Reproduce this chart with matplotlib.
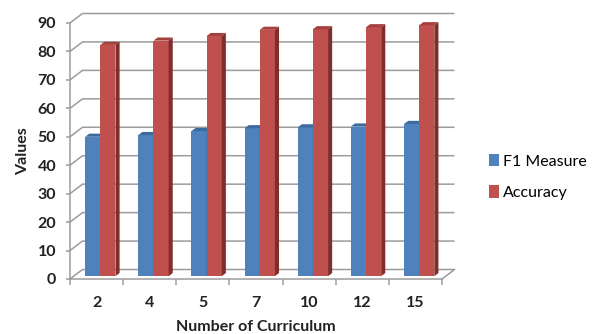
import matplotlib.pyplot as plt

# chart data
categories = ['2', '4', '5', '7', '10', '12', '15']
f1_measure = [49.0, 49.6, 51.0, 52.0, 52.3, 52.6, 53.5]
accuracy = [81.3, 82.8, 84.4, 86.6, 86.8, 87.5, 88.2]
y_ticks = [0, 10, 20, 30, 40, 50, 60, 70, 80, 90]

plt.rcParams['font.family'] = ['Lato', 'DejaVu Sans']

fig = plt.figure(figsize=(5.96, 3.34), dpi=100)
ax = fig.add_axes([70 / 596, 55 / 334, 372 / 596, 256 / 334])
ax.set_xlim(0, len(categories))
ax.set_ylim(0, 90)

# depth vector of the fake 3d box, in data units (12.5px right, 9.5px up)
DX = 12.5 / (372 / len(categories))
DY = 9.5 / (256 / 90)
grid_col = '#9c9c9c'
text_col = '#222222'
n = len(categories)

# back wall + left wall gridlines
for v in y_ticks:
    ax.plot([0, DX, n + DX], [v, v + DY, v + DY], color=grid_col, lw=1.1,
            clip_on=False, zorder=1, solid_capstyle='butt')
# right edge of the floor
ax.plot([n, n + DX], [0, DY], color=grid_col, lw=1.1, clip_on=False, zorder=1)

# bars
w = 0.285          # width of one bar (category units)
f = 0.30           # depth position of bar front face
bd = 0.33          # bar depth as fraction of box depth
series = [(f1_measure, '#4F81BD', '#3D6A9F', '#385D8A', 'F1 Measure'),
          (accuracy, '#C0504D', '#A4403E', '#7F2E2C', 'Accuracy')]
handles = []
z = 3
for i in range(n):
    for j, (vals, face, top, side, lab) in enumerate(series):
        v = vals[i]
        x0 = i + 0.5 - w + j * w + f * DX
        x1 = x0 + w
        b = f * DY
        bars = ax.bar(x0, v, width=w, bottom=b, align='edge', color=face,
                      clip_on=False, zorder=z)
        if i == 0:
            handles.append(bars)
        ax.fill([x0, x1, x1 + bd * DX, x0 + bd * DX],
                [b + v, b + v, b + v + bd * DY, b + v + bd * DY],
                color=top, clip_on=False, zorder=z, lw=0)
        ax.fill([x1, x1, x1 + bd * DX, x1 + bd * DX],
                [b, b + v, b + v + bd * DY, b + bd * DY],
                color=side, clip_on=False, zorder=z, lw=0)
        z += 1

for s in ['top', 'right']:
    ax.spines[s].set_visible(False)
for s in ['left', 'bottom']:
    ax.spines[s].set_color(grid_col)
    ax.spines[s].set_linewidth(1.1)

ax.set_yticks(y_ticks)
ax.set_yticklabels([str(t) for t in y_ticks])
ax.set_xticks([i for i in range(n + 1)])
ax.set_xticklabels([''] * (n + 1))
ax.set_xticks([i + 0.5 for i in range(n)], minor=True)
ax.set_xticklabels(categories, minor=True)
ax.tick_params(axis='x', which='major', length=4, width=1.1, color=grid_col)
ax.tick_params(axis='x', which='minor', length=0, pad=12, labelsize=11.5,
               labelcolor=text_col)
ax.tick_params(axis='y', length=3, width=1.1, color=grid_col, pad=7,
               labelsize=11.5, labelcolor=text_col)
for lbl in ax.get_xticklabels(minor=True) + ax.get_yticklabels():
    lbl.set_fontweight('bold')

ax.set_xlabel('Number of Curriculum', fontsize=11.5, fontweight='bold',
              color=text_col, labelpad=7.5)
ax.set_ylabel('Values', fontsize=11.5, fontweight='bold', color=text_col,
              labelpad=5)

fig.legend(handles=handles, labels=['F1 Measure', 'Accuracy'],
           loc='center left', bbox_to_anchor=(489 / 596, 1 - 177 / 334),
           frameon=False, fontsize=11.5, handlelength=0.65, handleheight=0.8,
           handletextpad=0.25, labelspacing=1.05, borderaxespad=0,
           borderpad=0)

fig.savefig('out.png', dpi=100)
